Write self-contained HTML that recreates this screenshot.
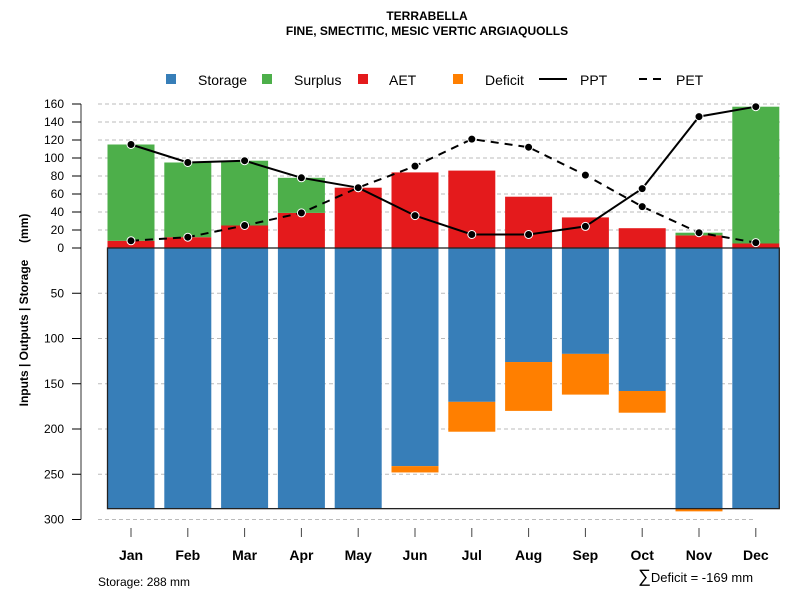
<!DOCTYPE html>
<html><head><meta charset="utf-8"><style>body{margin:0;background:#fff}svg{display:block;font-family:"Liberation Sans",sans-serif}</style></head>
<body>
<svg id="chart" width="800" height="600" viewBox="0 0 800 600">
<text x="427" y="20" text-anchor="middle" font-size="12" font-weight="bold">TERRABELLA</text>
<text x="427" y="35" text-anchor="middle" font-size="12" font-weight="bold">FINE, SMECTITIC, MESIC VERTIC ARGIAQUOLLS</text>
<g font-size="14">
<rect x="166" y="74" width="10" height="10" fill="#377eb8"/><text x="198" y="85">Storage</text>
<rect x="262" y="74" width="10" height="10" fill="#4daf4a"/><text x="294" y="85">Surplus</text>
<rect x="358" y="74" width="10" height="10" fill="#e41a1c"/><text x="389" y="85">AET</text>
<rect x="453" y="74" width="10" height="10" fill="#ff7f00"/><text x="485" y="85">Deficit</text>
<line x1="539" y1="79" x2="567" y2="79" stroke="#000" stroke-width="2"/><text x="580" y="85">PPT</text>
<line x1="639" y1="79" x2="667" y2="79" stroke="#000" stroke-width="2" stroke-dasharray="8,6"/><text x="676" y="85">PET</text>
</g>
<text style="white-space:pre" transform="translate(28,310) rotate(-90)" text-anchor="middle" font-size="12" font-weight="bold">Inputs | Outputs | Storage     (mm)</text>
<text x="98" y="586" font-size="12">Storage: 288 mm</text>
<text x="638" y="582" font-size="13"><tspan font-size="18">∑</tspan>Deficit = -169 mm</text>
<g id="grid"></g><g id="bars"></g><g id="axes"></g><g id="lines"></g>
</svg>
<script>
const months=["Jan","Feb","Mar","Apr","May","Jun","Jul","Aug","Sep","Oct","Nov","Dec"];
const storage=[288,288,288,288,288,241,170,126,117,158,288,288];
const deficit=[0,0,0,0,0,7,33,54,45,24,3,0];
const aet=[8,12,25,39,67,84,86,57,34,22,14,5];
const surplus=[107,83,72,39,0,0,0,0,0,0,3,152];
const ppt=[115,95,97,78,67,36,15,15,24,66,146,157];
const pet=[8,12,25,39,67,91,121,112,81,46,17,6];
const upTicks=[0,20,40,60,80,100,120,140,160];
const downTicks=[50,100,150,200,250,300];
const NS="http://www.w3.org/2000/svg";
const X=i=>131+i*56.8, BW=47;
const YU=v=>248-v*0.9, YD=v=>248+v*0.905;
function mk(p,t,a){const e=document.createElementNS(NS,t);for(const k in a)e.setAttribute(k,a[k]);document.getElementById(p).appendChild(e);return e;}
upTicks.forEach(t=>{if(t===0)return;const l=mk('grid','line',{x1:98,x2:780,y1:YU(t),y2:YU(t),stroke:'#bbb','stroke-dasharray':'4,3'});

});
downTicks.forEach(t=>{const l=mk('grid','line',{x1:98,x2:t===300?756:780,y1:YD(t),y2:YD(t),stroke:'#bbb','stroke-dasharray':'4,3'});

});
months.forEach((m,i)=>{const x=X(i)-BW/2;
let r=mk('bars','rect',{x:x,y:248,width:BW,height:YD(storage[i])-248,fill:'#377eb8'});


if(deficit[i]>0){r=mk('bars','rect',{x:x,y:YD(storage[i]),width:BW,height:YD(storage[i]+deficit[i])-YD(storage[i]),fill:'#ff7f00'});

}
r=mk('bars','rect',{x:x,y:YU(aet[i]),width:BW,height:248-YU(aet[i]),fill:'#e41a1c'});


if(surplus[i]>0){r=mk('bars','rect',{x:x,y:YU(aet[i]+surplus[i]),width:BW,height:YU(aet[i])-YU(aet[i]+surplus[i]),fill:'#4daf4a'});

}
let t=mk('axes','line',{x1:X(i),x2:X(i),y1:528,y2:537,stroke:'#444'});


let tx=mk('axes','text',{x:X(i),y:560,'text-anchor':'middle','font-size':14,'font-weight':'bold'});tx.textContent=m;


});
let box=mk('bars','rect',{x:X(0)-BW/2,y:248,width:X(11)-X(0)+BW,height:YD(288)-248,fill:'none',stroke:'#222','stroke-width':1.3});


let ax=mk('axes','line',{x1:81,x2:81,y1:YU(160),y2:YD(300),stroke:'#777','stroke-width':1.5});


upTicks.forEach(t=>{let l=mk('axes','line',{x1:72,x2:81,y1:YU(t),y2:YU(t),stroke:'#000'});


let tx=mk('axes','text',{x:64,y:YU(t)+4,'text-anchor':'end','font-size':12});tx.textContent=t;

});
downTicks.forEach(t=>{let l=mk('axes','line',{x1:72,x2:81,y1:YD(t),y2:YD(t),stroke:'#000'});


let tx=mk('axes','text',{x:64,y:YD(t)+4,'text-anchor':'end','font-size':12});tx.textContent=t;

});
function series(vals,name,dash){
let p=mk('lines','polyline',{points:vals.map((v,i)=>X(i)+','+YU(v)).join(' '),fill:'none',stroke:'#000','stroke-width':2,'stroke-dasharray':dash});


vals.forEach((v,i)=>{let c=mk('lines','circle',{cx:X(i),cy:YU(v),r:4,fill:'#000',stroke:'#fff','stroke-width':1});

});}
series(pet,'pet','8,6');
series(ppt,'ppt','none');
</script>
</body></html>
